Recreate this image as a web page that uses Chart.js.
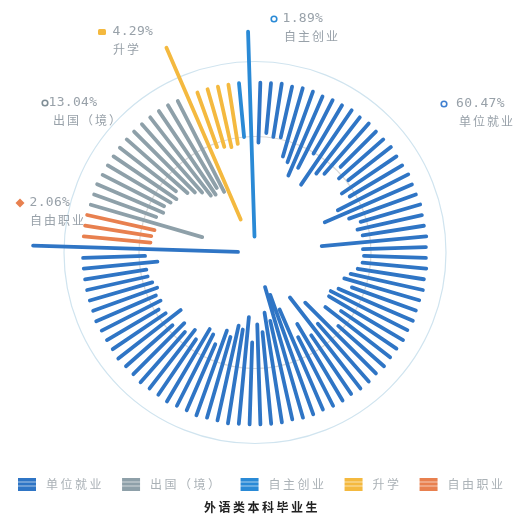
<!DOCTYPE html>
<html><head><meta charset="utf-8">
<script src="https://cdn.jsdelivr.net/npm/chart.js@4/dist/chart.umd.min.js"></script>
<style>html,body{margin:0;padding:0;background:#fff}#wrap{width:524px;height:527px;position:relative}</style>
</head><body><div id="wrap"><canvas id="c"></canvas></div>
<script>
// ---- data ----
const categories = ['单位就业', '出国（境）', '自主创业', '升学', '自由职业'];
const shares = ['60.47%', '13.04%', '1.89%', '4.29%', '2.06%'];
const chartTitle = '外语类本科毕业生';
// category index of each bar, clockwise from 12 o'clock
const barCategory = [
  0,0,0,0,0,0,0,0,0,0, 0,0,0,0,0,0,0,0,0,0,
  0,0,0,0,0,0,0,0,0,0, 0,0,0,0,0,0,0,0,0,0,
  0,0,0,0,0,0,0,0,0,0, 0,0,0,0,0,0,0,0,0,0,
  0,0,0,0,0,0,0,0,0,0, 0,0,0,0,0,0,4,4,4,1,
  1,1,1,1,1,1,1,1,1,1, 1,1,1,3,3,3,3,3,2,2
];
// inner end of each bar (radial value)
const barInner = [
  110,120,117,118,100,96,84,95,115,82,
  100,105,121,112,118,105,110,93,76,100,
  110,105,109,67,108,109,108,104,98,93,
  103,91,85,86,104,89,111,71,95,57,
  100,83,95,62,45,36,70,61,80,72,
  90,65,78,75,88,83,100,92,89,105,
  98,106,100,110,94,108,112,106,108,104,
  107,110,110,98,110,17,105,105,103,55,
  105,100,102,98,95,100,90,85,80,72,
  70,75,68,36,112,110,108,110,116,16
];
// outer end of each bar (radial value)
const barOuter = [
  170,170,171,170,171,171,170,171,171,172,
  171,172,171,171,172,171,171,172,171,171,
  172,171,171,172,171,171,172,171,172,171,
  171,172,171,172,171,171,172,171,172,172,
  171,172,172,171,172,172,171,172,172,172,
  172,172,173,172,172,173,172,172,173,172,
  172,173,172,172,173,172,172,172,173,172,
  172,172,172,172,172,222,172,172,172,171,
  171,172,171,171,171,171,171,171,171,171,
  171,171,170,223,170,170,170,170,170,221
];
const gridRings = [116, 191];

// ---- styles ----
const colors = ['#2f75c5', '#8ea0a9', '#2a8ad6', '#f4b93f', '#e8804f'];
const markerColors = ['#3f7fd0', '#7f8e96', '#2a8ad6', '#f4b93f', '#e8804f'];
const ringColors = ['#dadada', '#d0e4ef'];

const N = barCategory.length;
function polar(r, i) {
  const a = (i + 0.5) * 2 * Math.PI / N;
  return { x: r * Math.sin(a), y: r * Math.cos(a) };
}
const datasets = categories.map((name, c) => {
  const pts = [];
  barCategory.forEach((cat, i) => {
    if (cat === c) pts.push(polar(barInner[i], i), polar(barOuter[i], i), { x: null, y: null });
  });
  return {
    label: name, data: pts, showLine: true, spanGaps: false, tension: 0,
    borderColor: colors[c], backgroundColor: colors[c], borderWidth: 3.8,
    borderCapStyle: 'round', pointRadius: 0, pointHoverRadius: 0
  };
});

function stripeIcon(color) {
  const cv = document.createElement('canvas');
  cv.width = 38; cv.height = 13;
  const g = cv.getContext('2d');
  g.fillStyle = color; g.fillRect(16, 0, 18, 13);
  g.fillStyle = 'rgba(255,255,255,0.6)';
  g.fillRect(16, 4, 18, 1); g.fillRect(16, 8, 18, 1);
  return cv;
}
const icons = colors.map(stripeIcon);

const spacing = {
  id: 'spacing',
  beforeLayout(chart) { chart.ctx.letterSpacing = '2.5px'; },
  beforeDraw(chart) { chart.ctx.letterSpacing = '2.5px'; }
};

// keep 1 radial unit = 1 px with the polar centre at a fixed spot of the canvas
const keepCentre = {
  id: 'keepCentre',
  afterLayout(chart, args, opts) {
    const a = chart.chartArea, xs = chart.scales.x, ys = chart.scales.y;
    xs.min = a.left - opts.cx; xs.max = a.right - opts.cx; xs.configure();
    ys.min = opts.cy - a.bottom; ys.max = opts.cy - a.top; ys.configure();
  }
};

const polarDecor = {
  id: 'polarDecor',
  beforeDatasetsDraw(chart, args, opts) {
    const { ctx, scales: { x, y } } = chart;
    const cx = x.getPixelForValue(0), cy = y.getPixelForValue(0);
    gridRings.forEach((r, i) => {
      const pr = x.getPixelForValue(r) - cx;
      ctx.save();
      ctx.strokeStyle = ringColors[i]; ctx.lineWidth = 1.2;
      ctx.beginPath(); ctx.arc(cx, cy, pr, 0, Math.PI * 2); ctx.stroke();
      ctx.restore();
    });
  },
  afterDatasetsDraw(chart, args, opts) {
    const { ctx, scales: { x, y } } = chart;
    opts.labels.forEach(l => {
      const px = x.getPixelForValue(l.x), py = y.getPixelForValue(l.y);
      const col = markerColors[l.cat];
      ctx.save();
      ctx.letterSpacing = '0px';
      if (l.shape === 'ring') {
        ctx.strokeStyle = col; ctx.lineWidth = 1.6;
        ctx.beginPath(); ctx.arc(px, py, 2.8, 0, Math.PI * 2); ctx.stroke();
      } else if (l.shape === 'rect') {
        ctx.fillStyle = col;
        ctx.beginPath(); ctx.roundRect(px - 4, py - 3, 8, 6, 1.5); ctx.fill();
      } else {
        ctx.fillStyle = col;
        ctx.beginPath(); ctx.moveTo(px, py - 4.5); ctx.lineTo(px + 4.5, py); ctx.lineTo(px, py + 4.5); ctx.lineTo(px - 4.5, py); ctx.closePath(); ctx.fill();
      }
      ctx.fillStyle = opts.textColor;
      ctx.textBaseline = 'middle'; ctx.textAlign = 'left';
      ctx.font = '13px "DejaVu Sans Mono", monospace';
      ctx.letterSpacing = '0.3px';
      ctx.fillText(shares[l.cat], px + l.dx, py);
      ctx.font = '12px "Noto Sans CJK SC", sans-serif';
      ctx.letterSpacing = '2px';
      ctx.fillText(categories[l.cat], px + l.nx, py + 17);
      ctx.restore();
    });
  }
};

Chart.defaults.font.family = '"Noto Sans CJK SC", sans-serif';

new Chart(document.getElementById('c'), {
  type: 'scatter',
  data: { datasets },
  plugins: [spacing, keepCentre, polarDecor],
  options: {
    responsive: true, maintainAspectRatio: false, animation: false,
    layout: { padding: 0 },
    scales: {
      x: { type: 'linear', display: false, min: -255, max: 269 },
      y: { type: 'linear', display: false, min: -223.5, max: 252.5 }
    },
    plugins: {
      tooltip: { enabled: false },
      keepCentre: { cx: 255, cy: 252.5 },
      legend: {
        position: 'bottom', align: 'start',
        labels: {
          usePointStyle: true, pointStyleWidth: 38, boxHeight: 12, padding: 2,
          color: '#aab1b6', font: { size: 12 },
          generateLabels: () => categories.map((name, c) => ({
            text: name, pointStyle: icons[c], fillStyle: colors[c], strokeStyle: colors[c],
            lineWidth: 0, hidden: false, datasetIndex: c, fontColor: '#aab1b6'
          }))
        }
      },
      title: {
        display: true, position: 'bottom', text: chartTitle, color: '#222',
        font: { size: 12, weight: 'bold' }, padding: { top: 0.3, bottom: 12.3 }
      },
      polarDecor: {
        textColor: '#98a1a9',
        labels: [
          { cat: 0, x: 189, y: 148.5, shape: 'ring', dx: 12, nx: 15 },
          { cat: 1, x: -210, y: 149.5, shape: 'ring', dx: 3.5, nx: 8 },
          { cat: 2, x: 19, y: 233.5, shape: 'ring', dx: 8.5, nx: 10 },
          { cat: 3, x: -153, y: 220.5, shape: 'rect', dx: 10.5, nx: 11 },
          { cat: 4, x: -235, y: 49.5, shape: 'diamond', dx: 9.5, nx: 10 }
        ]
      }
    }
  }
});
</script>
</body></html>
